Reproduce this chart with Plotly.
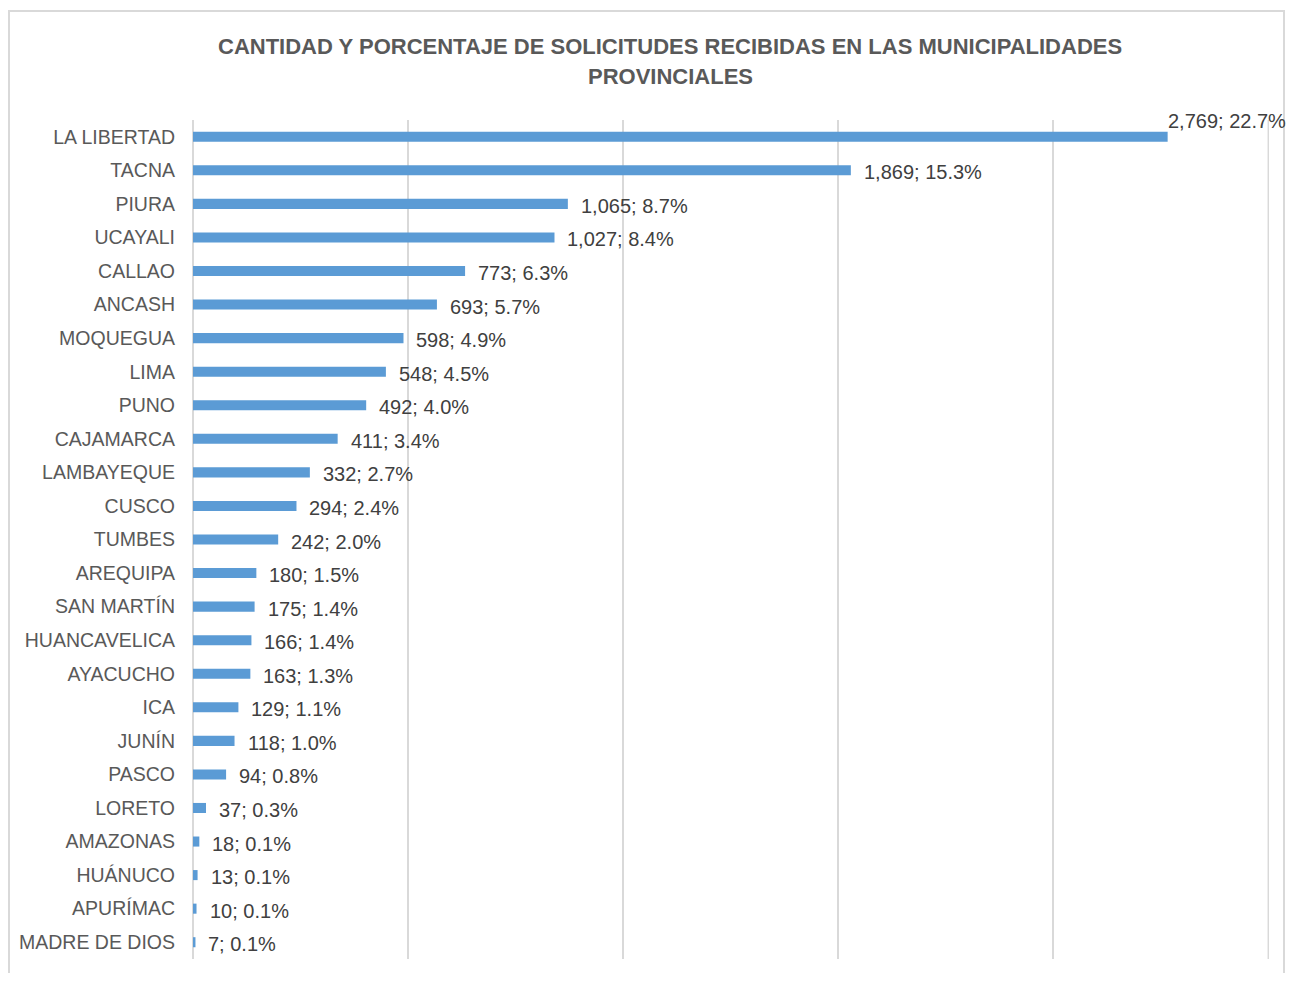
import plotly.graph_objects as go

regiones = ['LA LIBERTAD', 'TACNA', 'PIURA', 'UCAYALI', 'CALLAO', 'ANCASH', 'MOQUEGUA', 'LIMA', 'PUNO',
            'CAJAMARCA', 'LAMBAYEQUE', 'CUSCO', 'TUMBES', 'AREQUIPA', 'SAN MARTÍN', 'HUANCAVELICA',
            'AYACUCHO', 'ICA', 'JUNÍN', 'PASCO', 'LORETO', 'AMAZONAS', 'HUÁNUCO', 'APURÍMAC', 'MADRE DE DIOS']
solicitudes = [2769, 1869, 1065, 1027, 773, 693, 598, 548, 492, 411, 332, 294, 242, 180, 175, 166,
               163, 129, 118, 94, 37, 18, 13, 10, 7]
porcentajes = [22.7, 15.3, 8.7, 8.4, 6.3, 5.7, 4.9, 4.5, 4.0, 3.4, 2.7, 2.4, 2.0, 1.5, 1.4, 1.4,
               1.3, 1.1, 1.0, 0.8, 0.3, 0.1, 0.1, 0.1, 0.1]

total = sum(solicitudes)
pct = [v / total * 100 for v in solicitudes]

# page has an 8px body margin, so the figure is drawn 8px right/down
OFF = 8
W, H = 1294 - OFF, 981 - 2 * OFF
L, R, T, B = 193 - OFF, 25, 120 - OFF, 14
pw, ph = W - L - R, H - T - B

def px_x(x):
    return (x - OFF - L) / pw

def px_y(y):
    return (H - B - (y - OFF)) / ph

fig = go.Figure(go.Bar(x=pct, y=regiones, orientation='h', width=0.3,
                       marker=dict(color='#5B9BD5', line=dict(width=0)), hoverinfo='skip'))

for i, (r, v, p) in enumerate(zip(regiones, solicitudes, porcentajes)):
    fig.add_annotation(x=pct[i], y=r, text=f'{v:,}; {p:.1f}%', showarrow=False,
                       xanchor='left', yanchor='middle',
                       xshift=-2 if i == 0 else 11, yshift=16 if i == 0 else -2,
                       font=dict(family='Liberation Sans, Arial', size=20, color='#404040'))

for txt, ypx in [('CANTIDAD Y PORCENTAJE DE SOLICITUDES RECIBIDAS EN LAS MUNICIPALIDADES', 47),
                 ('PROVINCIALES', 77)]:
    fig.add_annotation(x=px_x(670), y=px_y(ypx), xref='paper', yref='paper', text=f'<b>{txt}</b>',
                       showarrow=False, xanchor='center', yanchor='middle',
                       font=dict(family='Liberation Sans, Arial', size=22, color='#595959'))

fig.add_shape(type='rect', xref='paper', yref='paper', x0=px_x(9), x1=px_x(1284), y0=px_y(1000), y1=px_y(11),
              line=dict(color='#D9D9D9', width=2), layer='below')
# gridline at the end of the axis (plotly drops the one on the edge)
fig.add_shape(type='line', xref='x', yref='paper', x0=25, x1=25, y0=0, y1=1,
              line=dict(color='#D9D9D9', width=2), layer='below')

fig.update_xaxes(range=[0, 25.01], tick0=0, dtick=5, showticklabels=False, showgrid=True,
                 gridcolor='#D9D9D9', gridwidth=2, zeroline=True, zerolinecolor='#D9D9D9',
                 zerolinewidth=2, showline=False)
fig.update_yaxes(autorange='reversed', showgrid=False, ticks='', ticklabelstandoff=17,
                 tickfont=dict(family='Liberation Sans, Arial', size=19.5, color='#595959'))
fig.update_layout(width=W, height=H, margin=dict(l=L, r=R, t=T, b=B), plot_bgcolor='white',
                  paper_bgcolor='white', showlegend=False, bargap=0.7)

fig.write_html('out.html')
